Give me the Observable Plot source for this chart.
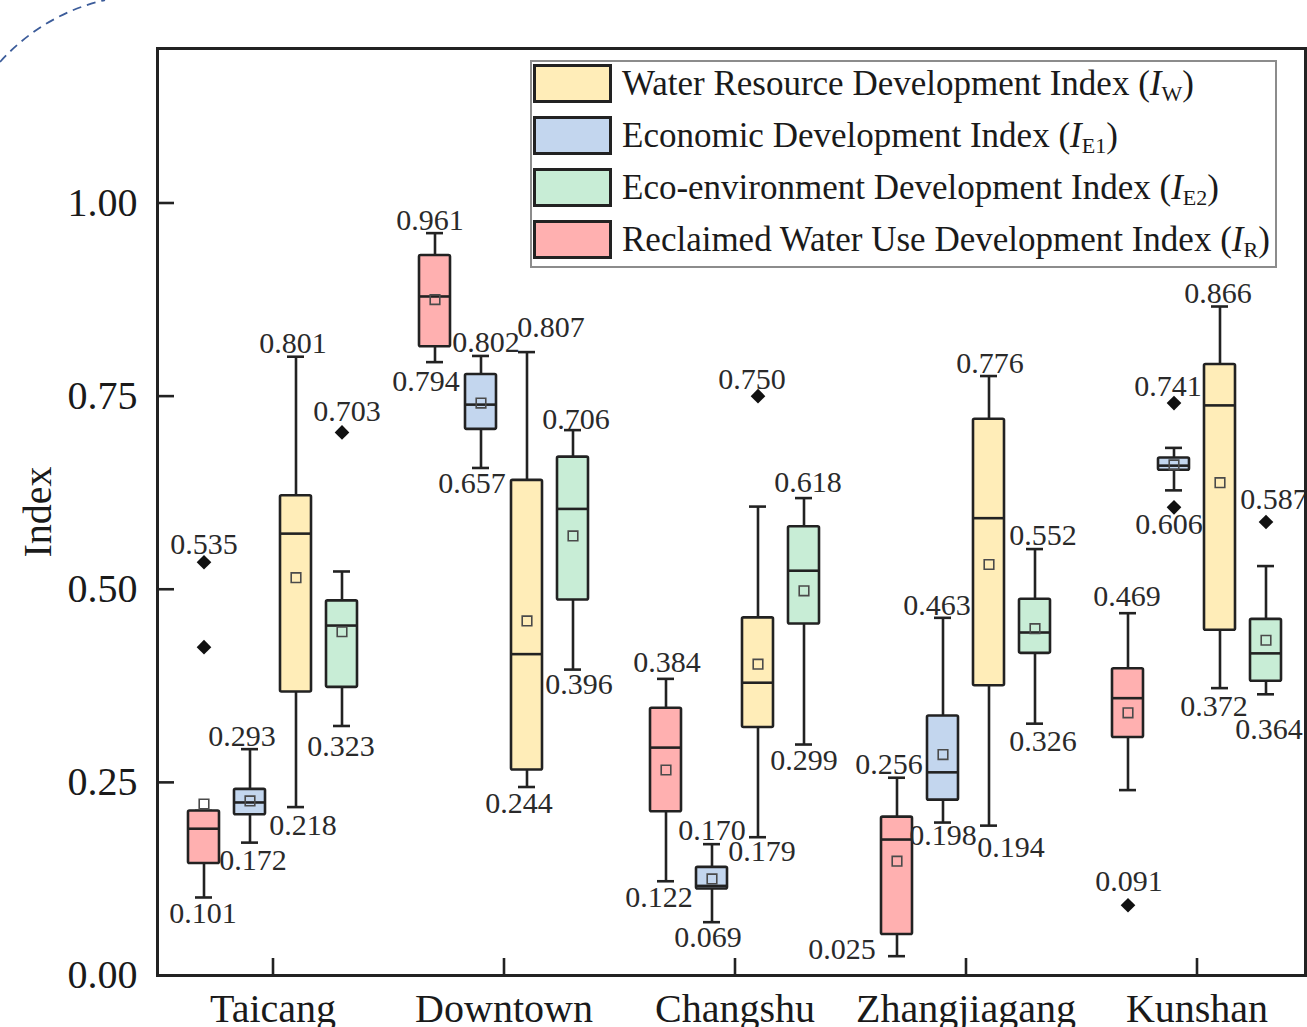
<!DOCTYPE html>
<html>
<head>
<meta charset="utf-8">
<script src="https://cdn.jsdelivr.net/npm/d3@7"></script>
<script src="https://cdn.jsdelivr.net/npm/@observablehq/plot@0.6"></script>
<style>
  html, body { margin: 0; padding: 0; background: #fff; }
  #wrap { position: relative; width: 1307px; height: 1027px; overflow: hidden;
          font-family: "Liberation Serif", "DejaVu Serif", serif; }
  #wrap > svg.plot { position: absolute; left: 0; top: 0; }
  #deco { position: absolute; left: 0; top: 0; pointer-events: none; }
  #legend { position: absolute; left: 530px; top: 60px; width: 747px; height: 208px;
            box-sizing: border-box; border: 2px solid #8c8c8c; background: #fff; }
  .lg-row { position: absolute; left: 1px; height: 39px; display: flex; align-items: center; }
  .lg-sw { width: 79px; height: 39px; box-sizing: border-box; border: 3px solid #222; }
  .lg-tx { margin-left: 10px; font-size: 35px; color: #1a1a1a; white-space: nowrap; line-height: 39px; }
  .lg-tx sub { font-size: 22px; font-style: normal; vertical-align: -6px; line-height: 0; }
</style>
</head>
<body>
<div id="wrap"></div>
<script>
// Regions along the horizontal axis
const regions = ["Taicang", "Downtown", "Changshu", "Zhangjiagang", "Kunshan"];

// Series keys: drawing order of boxes inside each region
const boxOrder = ["IR", "IE1", "IW", "IE2"];
// Legend order
const legendOrder = ["IW", "IE1", "IE2", "IR"];
const seriesNames = {
  IW: "Water Resource Development Index",
  IE1: "Economic Development Index",
  IE2: "Eco-environment Development Index",
  IR: "Reclaimed Water Use Development Index"
};
const seriesSubs = { IW: "W", IE1: "E1", IE2: "E2", IR: "R" };

// Box statistics per region: [whisker min, Q1, median, mean, Q3, whisker max]
const reclaimedStats = [
  [0.101, 0.145, 0.190, 0.222, 0.213, 0.213],
  [0.794, 0.814, 0.879, 0.875, 0.932, 0.961],
  [0.122, 0.212, 0.295, 0.266, 0.346, 0.384],
  [0.025, 0.053, 0.176, 0.148, 0.205, 0.256],
  [0.240, 0.308, 0.359, 0.340, 0.397, 0.469]
];
const economicStats = [
  [0.172, 0.208, 0.224, 0.226, 0.241, 0.293],
  [0.657, 0.707, 0.739, 0.741, 0.778, 0.802],
  [0.069, 0.112, 0.116, 0.125, 0.140, 0.170],
  [0.198, 0.227, 0.263, 0.286, 0.336, 0.463],
  [0.628, 0.654, 0.660, 0.661, 0.670, 0.683]
];
const waterStats = [
  [0.218, 0.367, 0.572, 0.515, 0.621, 0.801],
  [0.244, 0.266, 0.416, 0.459, 0.641, 0.807],
  [0.179, 0.321, 0.379, 0.403, 0.463, 0.607],
  [0.194, 0.375, 0.592, 0.532, 0.720, 0.776],
  [0.372, 0.447, 0.738, 0.638, 0.791, 0.866]
];
const ecoStats = [
  [0.323, 0.373, 0.453, 0.445, 0.485, 0.523],
  [0.396, 0.486, 0.604, 0.569, 0.671, 0.706],
  [0.299, 0.455, 0.524, 0.498, 0.581, 0.618],
  [0.326, 0.417, 0.444, 0.449, 0.487, 0.552],
  [0.364, 0.381, 0.417, 0.434, 0.461, 0.530]
];

// Outliers: [region, series, value]
const outliers = [
  ["Taicang", "IR", 0.535], ["Taicang", "IR", 0.425], ["Taicang", "IE2", 0.703],
  ["Changshu", "IW", 0.750],
  ["Kunshan", "IR", 0.091], ["Kunshan", "IE1", 0.741], ["Kunshan", "IE1", 0.606],
  ["Kunshan", "IE2", 0.587]
];

// Annotated values: [region, series, value]
const valueLabels = [
  ["Taicang", "IR", 0.101], ["Taicang", "IR", 0.535], ["Taicang", "IE1", 0.293], ["Taicang", "IE1", 0.172],
  ["Taicang", "IW", 0.801], ["Taicang", "IW", 0.218], ["Taicang", "IE2", 0.323], ["Taicang", "IE2", 0.703],
  ["Downtown", "IR", 0.961], ["Downtown", "IR", 0.794], ["Downtown", "IE1", 0.802], ["Downtown", "IE1", 0.657],
  ["Downtown", "IW", 0.807], ["Downtown", "IW", 0.244], ["Downtown", "IE2", 0.706], ["Downtown", "IE2", 0.396],
  ["Changshu", "IR", 0.384], ["Changshu", "IR", 0.122], ["Changshu", "IE1", 0.170], ["Changshu", "IE1", 0.069],
  ["Changshu", "IW", 0.750], ["Changshu", "IW", 0.179], ["Changshu", "IE2", 0.618], ["Changshu", "IE2", 0.299],
  ["Zhangjiagang", "IR", 0.256], ["Zhangjiagang", "IR", 0.025], ["Zhangjiagang", "IE1", 0.463], ["Zhangjiagang", "IE1", 0.198],
  ["Zhangjiagang", "IW", 0.776], ["Zhangjiagang", "IW", 0.194], ["Zhangjiagang", "IE2", 0.552], ["Zhangjiagang", "IE2", 0.326],
  ["Kunshan", "IR", 0.469], ["Kunshan", "IR", 0.091], ["Kunshan", "IE1", 0.741], ["Kunshan", "IE1", 0.606],
  ["Kunshan", "IW", 0.866], ["Kunshan", "IW", 0.372], ["Kunshan", "IE2", 0.587], ["Kunshan", "IE2", 0.364]
];

const yTicks = [0, 0.25, 0.5, 0.75, 1.0];

// ---- styling ----
const fills = { IW: "#FFEDB8", IE1: "#C3D6EE", IE2: "#C8EDD6", IR: "#FFB0B0" };
const ink = "#222";
const SLOT = 46;          // spacing between boxes in a region (px)
const BAND = 231;         // width of one region band (px)
const BOX_W = 31;         // box width (px)
const CAP_W = 17;         // whisker cap width (px)
// label nudges [dx, dy] in px, same order as valueLabels
const labelNudges = [
  [-1, 16], [0, -18], [-8, -13], [3, 18], [-3, -13], [7, 18], [-1, 20], [5, -21],
  [-5, -13], [-9, 19], [5, -14], [-9, 15], [24, -25], [-8, 16], [3, -11], [6, 15],
  [1, -16], [-7, 16], [0, -14], [-4, 15], [-6, -17], [4, 14], [4, -16], [0, 16],
  [-8, -13], [-55, -7], [-6, -12], [0, 13], [1, -13], [22, 22], [8, -14], [8, 18],
  [-1, -17], [1, -24], [-6, -17], [-5, 17], [-2, -13], [-6, 18], [8, -23], [3, 35]
];

const statsOf = { IR: reclaimedStats, IE1: economicStats, IW: waterStats, IE2: ecoStats };
const offsetOf = s => (boxOrder.indexOf(s) - 1.5) * SLOT;

const marks = [];
for (const s of boxOrder) {
  const o = offsetOf(s);
  const rows = regions.map((region, k) => {
    const [min, q1, med, mean, q3, max] = statsOf[s][k];
    return { region, min, q1, med, mean, q3, max };
  });
  const boxInset = (BAND - BOX_W) / 2;
  const capInset = (BAND - CAP_W) / 2;
  marks.push(
    Plot.ruleX(rows, { x: "region", y1: "min", y2: "max", dx: o, stroke: ink, strokeWidth: 2.6 }),
    Plot.tickY(rows, { x: "region", y: "min", dx: o, insetLeft: capInset, insetRight: capInset, stroke: ink, strokeWidth: 2.6 }),
    Plot.tickY(rows, { x: "region", y: "max", dx: o, insetLeft: capInset, insetRight: capInset, stroke: ink, strokeWidth: 2.6 }),
    Plot.barY(rows, { x: "region", y1: "q1", y2: "q3", dx: o, insetLeft: boxInset, insetRight: boxInset,
      fill: fills[s], stroke: ink, strokeWidth: 2.6, strokeLinejoin: "round", rx: 1.5 }),
    Plot.tickY(rows, { x: "region", y: "med", dx: o, insetLeft: boxInset, insetRight: boxInset, stroke: ink, strokeWidth: 2.6 }),
    Plot.dot(rows, { x: "region", y: "mean", dx: o, symbol: "square", r: 5.4, stroke: "#4a4a4a", strokeWidth: 1.6, fill: "none" }),
    Plot.dot(outliers.filter(d => d[1] === s), { x: d => d[0], y: d => d[2], dx: o, symbol: "diamond2", r: 6.6, fill: "#111", stroke: "none" })
  );
}

valueLabels.forEach((lab, j) => {
  const [ndx, ndy] = labelNudges[j];
  marks.push(Plot.text([lab], {
    x: d => d[0], y: d => d[2], text: d => d[2].toFixed(3),
    dx: offsetOf(lab[1]) + ndx, dy: ndy, fontSize: 30, fill: "#2a2a2a"
  }));
});

marks.push(
  Plot.frame({ stroke: ink, strokeWidth: 3 }),
  Plot.axisX({ anchor: "bottom", tickSize: -17, tickPadding: 35, fontSize: 40, strokeWidth: 2.6, stroke: ink, fill: "#1a1a1a", label: null }),
  Plot.axisY(yTicks, { anchor: "left", tickSize: -17, tickPadding: 37, fontSize: 40, strokeWidth: 2.6, stroke: ink,
    fill: "#1a1a1a", tickFormat: d3.format(".2f"), label: null }),
  Plot.text(["Index"], { frameAnchor: "left", rotate: -90, dx: -119, textAnchor: "middle", fontSize: 40, fill: "#1a1a1a", text: d => d })
);

const chart = Plot.plot({
  width: 1307,
  height: 1027,
  marginLeft: 157,
  marginRight: 2,
  marginTop: 48,
  marginBottom: 52,
  style: { fontFamily: "'Liberation Serif', 'DejaVu Serif', serif", background: "#fff", overflow: "visible" },
  x: { type: "band", domain: regions, range: [157, 157 + BAND * regions.length], padding: 0, axis: null },
  y: { domain: [0, 1.2], axis: null },
  marks
});

const wrap = document.getElementById("wrap");
wrap.appendChild(chart);

// Decorative dashed arc in the top-left corner
const deco = d3.select(wrap).append("svg").attr("id", "deco").attr("width", 160).attr("height", 80);
deco.append("path").attr("d", "M0,62 A201,201 0 0,1 105,0")
  .attr("fill", "none").attr("stroke", "#3c5c9a").attr("stroke-width", 1.8).attr("stroke-dasharray", "9 6");

// Legend inside the plot area
const legend = d3.select(wrap).append("div").attr("id", "legend");
legendOrder.forEach((s, i) => {
  const row = legend.append("div").attr("class", "lg-row").style("top", (2 + i * 52) + "px");
  row.append("div").attr("class", "lg-sw").style("background", fills[s]);
  row.append("div").attr("class", "lg-tx")
    .html(`${seriesNames[s]} (<i>I</i><sub>${seriesSubs[s]}</sub>)`);
});
</script>
</body>
</html>
